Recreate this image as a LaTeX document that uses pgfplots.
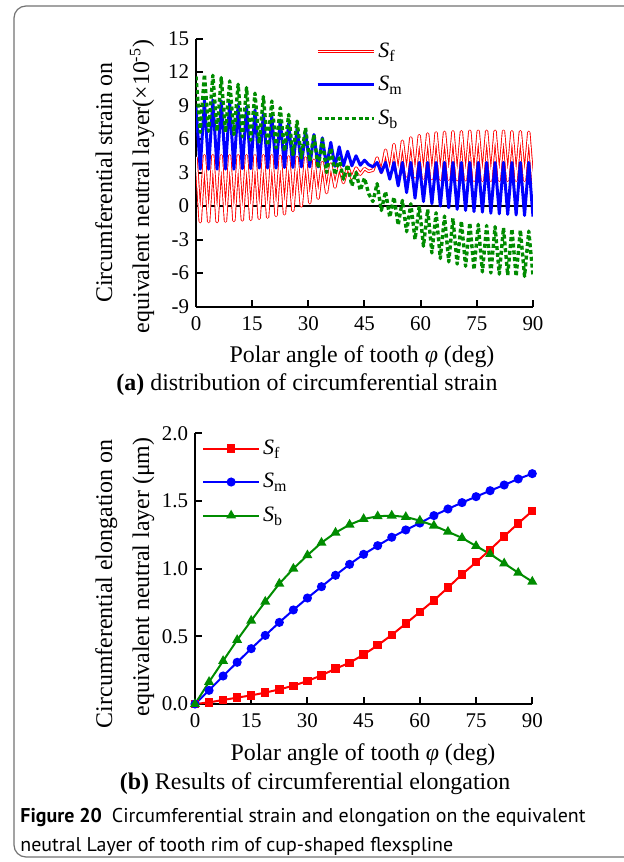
\documentclass[border=0pt]{standalone}
\usepackage{fontspec}
\setmainfont{Liberation Serif}
\newfontfamily\capfont{PT Sans}
\usepackage{pgfplots}
\usepackage{pgfplotstable}
\pgfplotsset{compat=1.18}
\definecolor{myred}{RGB}{255,0,0}
\definecolor{myblue}{RGB}{0,0,255}
\definecolor{mygreen}{RGB}{0,140,0}
\newcommand{\Sx}[1]{\textit{S}\raisebox{-0.4ex}{\fontsize{8}{9}\selectfont #1}}

\pgfplotstableread{
x     sf     sm     sb
0     0      0      0
3.75  0.012  0.101  0.163
7.5   0.030  0.207  0.318
11.25 0.047  0.308  0.473
15    0.064  0.409  0.616
18.75 0.084  0.507  0.756
22.5  0.108  0.603  0.889
26.25 0.135  0.695  1.000
30    0.170  0.783  1.099
33.75 0.212  0.867  1.192
37.5  0.261  0.951  1.266
41.25 0.305  1.032  1.325
45    0.365  1.106  1.367
48.75 0.434  1.170  1.387
52.5  0.510  1.232  1.392
56.25 0.594  1.286  1.382
60    0.680  1.337  1.355
63.75 0.766  1.392  1.318
67.5  0.860  1.441  1.273
71.25 0.958  1.488  1.227
75    1.047  1.532  1.167
78.75 1.140  1.576  1.108
82.5  1.239  1.618  1.039
86.25 1.335  1.663  0.970
90    1.426  1.702  0.904
}\elong

\pgfplotsset{
  myaxis/.style={
    scale only axis,
    anchor=south west,
    axis lines*=left,
    axis line style={line width=1bp, black},
    tick style={line width=1bp, black},
    major tick length=3.5bp,
    tick align=inside,
    xmin=0, xmax=90,
    xtick={0,15,30,45,60,75,90},
    xticklabels={0,15,30,45,60,75,90},
    tick label style={font=\fontsize{10.5}{12}\selectfont},
    xticklabel style={yshift=-1.5bp},
    legend cell align=left,
    legend style={draw=none, fill=none, inner sep=0pt,
      font=\fontsize{11}{12}\selectfont, row sep=5bp,
      nodes={inner sep=1.5bp},
      /tikz/every even column/.append style={column sep=2bp}},
  }
}

\begin{document}
\begin{tikzpicture}
\path[use as bounding box] (0,0) rectangle (312bp,-431bp);
\fill[white] (0,0) rectangle (312bp,-431bp);
\draw[black!55, line width=0.6bp, rounded corners=6bp]
  (313bp,-3bp) -- (7bp,-3bp) -- (7bp,-428.5bp) -- (313bp,-428.5bp);

% ---------- top axis ----------
\begin{axis}[myaxis,
  at={(98bp,-153.25bp)}, width=168.5bp, height=134bp,
  ymin=-9, ymax=15,
  ytick={-9,-6,-3,0,3,6,9,12,15},
  yticklabels={-9,-6,-3,0,3,6,9,12,15},
  legend style={at={(0.355,0.8265)}, anchor=west},
  legend image code/.code={\draw[#1] (0bp,0bp) -- (28bp,0bp);},
]
\addplot[black, line width=1bp, forget plot] coordinates {(0,0) (90,0)};
\addplot[myred, line width=0.45bp, double=white, double distance=0.75bp, line join=round] coordinates {
(0,4.4)(1.125,-1.4)(2.25,4.5)(3.375,-1.4)(4.5,4.5)(5.625,-1.4)(6.75,4.5)(7.875,-1.35)(9,4.5)(10.125,-1.3)(11.25,4.5)(12.375,-1.25)(13.5,4.5)(14.625,-1.2)(15.75,4.5)(16.875,-1.1)(18,4.5)(19.125,-1.0)(20.25,4.5)(21.375,-0.85)(22.5,4.45)(23.625,-0.7)(24.75,4.4)(25.875,-0.4)(27,4.35)(28.125,0.0)(29.25,4.3)(30.375,0.3)(31.5,4.1)(32.625,0.7)(33.75,3.9)(34.875,1.2)(36,3.75)(37.125,1.7)(38.25,3.6)(39.375,2.1)(40.5,3.5)(41.625,2.5)(42.75,3.4)(43.875,2.85)(45,3.35)(46.125,3.1)(47.25,3.2)(48.375,4.3)(49.5,3.0)(50.625,5.0)(51.75,2.9)(52.875,5.5)(54,2.8)(55.125,5.8)(56.25,2.7)(57.375,6.1)(58.5,2.6)(59.625,6.3)(60.75,2.5)(61.875,6.45)(63,2.45)(64.125,6.55)(65.25,2.4)(66.375,6.6)(67.5,2.4)(68.625,6.65)(69.75,2.35)(70.875,6.65)(72,2.35)(73.125,6.7)(74.25,2.3)(75.375,6.7)(76.5,2.3)(77.625,6.7)(78.75,2.3)(79.875,6.7)(81,2.3)(82.125,6.7)(83.25,2.3)(84.375,6.65)(85.5,2.3)(86.625,6.65)(87.75,2.3)(88.875,6.6)(90,2.0)
};
\addlegendentry{\Sx{f}}
\addplot[myblue, line width=1.5bp, line join=round] coordinates {
(0,8.9)(1.125,3.3)(2.25,9.5)(3.375,3.3)(4.5,9.5)(5.625,3.3)(6.75,9.4)(7.875,3.3)(9,9.3)(10.125,3.3)(11.25,9.1)(12.375,3.35)(13.5,8.9)(14.625,3.35)(15.75,8.6)(16.875,3.4)(18,8.3)(19.125,3.4)(20.25,8.0)(21.375,3.4)(22.5,7.7)(23.625,3.45)(24.75,7.4)(25.875,3.45)(27,7.0)(28.125,3.5)(29.25,6.7)(30.375,3.5)(31.5,6.4)(32.625,3.5)(33.75,6.1)(34.875,3.55)(36,5.7)(37.125,3.55)(38.25,5.3)(39.375,3.6)(40.5,4.9)(41.625,3.6)(42.75,4.5)(43.875,3.65)(45,4.1)(46.125,3.7)(47.25,3.5)(48.375,3.9)(49.5,3.0)(50.625,3.9)(51.75,2.4)(52.875,3.9)(54,1.8)(55.125,3.9)(56.25,1.2)(57.375,3.9)(58.5,0.7)(59.625,3.9)(60.75,0.4)(61.875,3.9)(63,0.2)(64.125,3.9)(65.25,0.0)(66.375,3.9)(67.5,-0.15)(68.625,3.9)(69.75,-0.3)(70.875,3.9)(72,-0.4)(73.125,3.9)(74.25,-0.5)(75.375,3.9)(76.5,-0.55)(77.625,3.9)(78.75,-0.65)(79.875,3.9)(81,-0.7)(82.125,3.9)(83.25,-0.75)(84.375,3.9)(85.5,-0.8)(86.625,3.9)(87.75,-0.85)(88.875,3.9)(90,-0.95)
};
\addlegendentry{\Sx{m}}
\addplot[mygreen, line width=1.7bp, dash pattern=on 2bp off 1.4bp, line join=round] coordinates {
(0,11.6)(1.125,6.6)(2.25,11.8)(3.375,6.7)(4.5,11.7)(5.625,6.7)(6.75,11.5)(7.875,6.6)(9,11.2)(10.125,6.4)(11.25,10.9)(12.375,6.2)(13.5,10.6)(14.625,5.9)(15.75,10.1)(16.875,5.6)(18,9.8)(19.125,5.4)(20.25,9.4)(21.375,5.2)(22.5,8.8)(23.625,4.9)(24.75,8.2)(25.875,4.6)(27,7.6)(28.125,4.3)(29.25,7.0)(30.375,4.0)(31.5,6.4)(32.625,3.4)(33.75,6.0)(34.875,3.0)(36,5.2)(37.125,2.8)(38.25,4.3)(39.375,2.4)(40.5,3.7)(41.625,1.8)(42.75,3.0)(43.875,1.4)(45,2.5)(46.125,1.1)(47.25,0.4)(48.375,2.0)(49.5,-0.4)(50.625,1.3)(51.75,-1.0)(52.875,0.8)(54,-1.7)(55.125,0.5)(56.25,-2.3)(57.375,0.2)(58.5,-3.0)(59.625,0.0)(60.75,-3.6)(61.875,-0.3)(63,-4.2)(64.125,-0.6)(65.25,-4.7)(66.375,-0.9)(67.5,-5.0)(68.625,-1.1)(69.75,-5.2)(70.875,-1.35)(72,-5.4)(73.125,-1.5)(74.25,-5.7)(75.375,-1.65)(76.5,-5.9)(77.625,-1.75)(78.75,-6.0)(79.875,-1.85)(81,-6.1)(82.125,-1.95)(83.25,-6.2)(84.375,-2.05)(85.5,-6.3)(86.625,-2.15)(87.75,-6.3)(88.875,-2.25)(90,-6.2)
};
\addlegendentry{\Sx{b}}
\end{axis}

% ---------- bottom axis ----------
\begin{axis}[myaxis,
  at={(97.5bp,-352bp)}, width=168.65bp, height=135.35bp,
  ymin=0, ymax=2,
  ytick={0,0.5,1,1.5,2},
  yticklabels={0.0,0.5,1.0,1.5,2.0},
  legend style={at={(0.02,0.82)}, anchor=west},
  legend image code/.code={\draw[mark repeat=2,mark phase=2,#1] plot coordinates {(0bp,0bp) (14bp,0bp) (28bp,0bp)};},
]
\addplot[myred, line width=1bp, mark=square*, mark size=1.6bp] table[x=x,y=sf] {\elong};
\addlegendentry{\Sx{f}}
\addplot[myblue, line width=1bp, mark=*, mark size=1.75bp] table[x=x,y=sm] {\elong};
\addlegendentry{\Sx{m}}
\addplot[mygreen, line width=1bp, mark=triangle*, mark size=1.9bp] table[x=x,y=sb] {\elong};
\addlegendentry{\Sx{b}}
\end{axis}

% ---------- labels ----------
\node[rotate=90, anchor=base, font=\fontsize{12}{14}\selectfont] at (56bp,-91.25bp) {Circumferential strain on};
\node[rotate=90, anchor=base, font=\fontsize{12}{14}\selectfont] at (74.5bp,-93.25bp) {equivalent neutral layer(×10\textsuperscript{-5})};
\node[anchor=base, font=\fontsize{12}{14}\selectfont] at (181bp,-181.25bp) {Polar angle of tooth \textit{φ} (deg)};
\node[anchor=base, font=\fontsize{12}{14}\selectfont] at (153.5bp,-195bp) {\textbf{(a)} distribution of circumferential strain};

\node[rotate=90, anchor=base, font=\fontsize{12}{14}\selectfont] at (56bp,-292bp) {Circumferential elongation on};
\node[rotate=90, anchor=base, font=\fontsize{12}{14}\selectfont] at (74.5bp,-288.5bp) {equivalent neutral layer (μm)};
\node[anchor=base, font=\fontsize{12}{14}\selectfont] at (181.5bp,-380bp) {Polar angle of tooth \textit{φ} (deg)};
\node[anchor=base, font=\fontsize{12}{14}\selectfont] at (157.5bp,-394.5bp) {\textbf{(b)} Results of circumferential elongation};

\node[anchor=base west, inner sep=0pt, font=\capfont\fontsize{10}{12}\selectfont] at (10bp,-411bp) {\textbf{Figure 20}\hspace{0.5em}Circumferential strain and elongation on the equivalent};
\node[anchor=base west, inner sep=0pt, font=\capfont\fontsize{10}{12}\selectfont] at (10bp,-425.5bp) {neutral Layer of tooth rim of cup-shaped flexspline};
\end{tikzpicture}
\end{document}
